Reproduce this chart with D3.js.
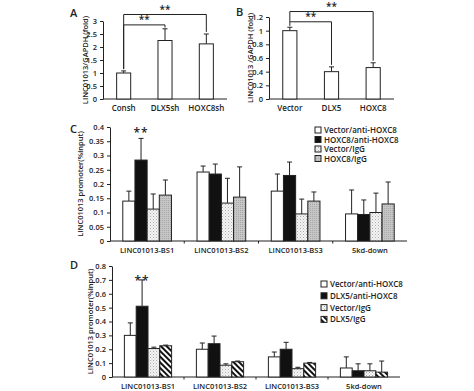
<!DOCTYPE html>
<html><head><meta charset="utf-8">
<script src="https://cdn.jsdelivr.net/npm/d3@7"></script>
<style>body{margin:0;background:#fff}svg{display:block}text{font-family:"Open Sans",Arial,sans-serif;font-weight:600;fill:#222}</style>
</head><body><svg id="c" width="474" height="391"></svg>
<script>
// Panel A
const catsA = ["Consh","DLX5sh","HOXC8sh"];
const valsA = [1.0, 2.25, 2.12];
const errA  = [1.08, 2.7, 2.5];
const ticksA = [0,0.5,1,1.5,2,2.5,3];
// Panel B
const catsB = ["Vector","DLX5","HOXC8"];
const valsB = [1.0, 0.40, 0.46];
const errB  = [1.05, 0.47, 0.53];
const ticksB = [0,0.2,0.4,0.6,0.8,1,1.2];
// Panel C
const groupsC = ["LINC01013-BS1","LINC01013-BS2","LINC01013-BS3","5kd-down"];
const seriesC = ["Vector/anti-HOXC8","HOXC8/anti-HOXC8","Vector/IgG","HOXC8/IgG"];
const valsC = [[0.14,0.242,0.175,0.095],[0.284,0.235,0.23,0.093],[0.112,0.133,0.095,0.10],[0.161,0.154,0.14,0.13]];
const errC  = [[0.175,0.263,0.235,0.179],[0.36,0.27,0.277,0.144],[0.165,0.22,0.147,0.168],[0.214,0.26,0.172,0.207]];
const ticksC = [0,0.05,0.1,0.15,0.2,0.25,0.3,0.35,0.4];
// Panel D
const groupsD = ["LINC01013-BS1","LINC01013-BS2","LINC01013-BS3","5kd-down"];
const seriesD = ["Vector/anti-HOXC8","DLX5/anti-HOXC8","Vector/IgG","DLX5/IgG"];
const valsD = [[0.30,0.20,0.145,0.065],[0.51,0.24,0.20,0.045],[0.205,0.085,0.06,0.045],[0.225,0.11,0.10,0.035]];
const errD  = [[0.39,0.245,0.18,0.145],[0.70,0.295,0.25,0.095],[0.215,0.095,0.07,0.095],[0.23,0.115,0.105,0.115]];
const ticksD = [0,0.1,0.2,0.3,0.4,0.5,0.6,0.7,0.8];

const svg = d3.select("#c");
const defs = svg.append("defs");
const pd = defs.append("pattern").attr("id","dots").attr("patternUnits","userSpaceOnUse").attr("width",3).attr("height",3);
pd.append("rect").attr("width",3).attr("height",3).attr("fill","#f4f4f4");
pd.append("rect").attr("x",0).attr("y",0).attr("width",1).attr("height",1).attr("fill","#aaa");
pd.append("rect").attr("x",1.5).attr("y",1.5).attr("width",1).attr("height",1).attr("fill","#c4c4c4");
const pg = defs.append("pattern").attr("id","gray").attr("patternUnits","userSpaceOnUse").attr("width",2).attr("height",2);
pg.append("rect").attr("width",2).attr("height",2).attr("fill","#c6c6c6");
pg.append("rect").attr("width",1).attr("height",1).attr("fill","#a8a8a8");
const ph = defs.append("pattern").attr("id","hatch").attr("patternUnits","userSpaceOnUse").attr("width",4).attr("height",4).attr("patternTransform","rotate(-45)");
ph.append("rect").attr("width",4).attr("height",4).attr("fill","#fff");
ph.append("rect").attr("width",2).attr("height",4).attr("fill","#111");

function yAxis(g, y, x0, ticks, fmt){
  const ax = d3.axisLeft(y).tickValues(ticks).tickSize(3).tickSizeOuter(0).tickFormat(fmt||(d=>d));
  const a = g.append("g").attr("transform",`translate(${x0},0)`).call(ax);
  a.select(".domain").attr("stroke","#222");
  a.selectAll("line").attr("stroke","#222");
  a.selectAll("text").attr("font-size",7.5).attr("font-weight",600).attr("fill","#222").attr("font-family","Open Sans, Arial");
  return a;
}

function simple(cats, vals, errs, ticks, x0, x1, yTop, yBot, ymax, ylab, ylx, panel, plx, ply, brackets){
  const g = svg.append("g");
  const x = d3.scaleBand().domain(cats).range([x0,x1]).paddingInner(0.66).paddingOuter(0.33);
  const y = d3.scaleLinear().domain([0,ymax]).range([yBot,yTop]);
  yAxis(g,y,x0,ticks);
  g.append("line").attr("x1",x0).attr("x2",x1).attr("y1",yBot).attr("y2",yBot).attr("stroke","#222");
  cats.forEach((c,i)=>{
    const cx = x(c)+x.bandwidth()/2;
    g.append("line").attr("x1",cx).attr("x2",cx).attr("y1",y(vals[i])).attr("y2",y(errs[i])).attr("stroke","#222");
    g.append("line").attr("x1",cx-2.5).attr("x2",cx+2.5).attr("y1",y(errs[i])).attr("y2",y(errs[i])).attr("stroke","#222");
    g.append("rect").attr("x",x(c)).attr("y",y(vals[i])).attr("width",x.bandwidth()).attr("height",yBot-y(vals[i])).attr("fill","#fff").attr("stroke","#222");
    g.append("text").attr("x",cx).attr("y",yBot+12).attr("text-anchor","middle").attr("font-size",8).text(c);
  });
  g.append("text").attr("transform",`translate(${ylx},${(yTop+yBot)/2}) rotate(-90)`).attr("text-anchor","middle").attr("font-size",7.5).text(ylab);
  g.append("text").attr("x",plx).attr("y",ply).attr("font-size",11).attr("font-weight",700).attr("font-family","Arial").text(panel);
  brackets.forEach(b=>{
    const a = x(cats[b.from])+x.bandwidth()/2, e = x(cats[b.to])+x.bandwidth()/2;
    g.append("path").attr("d",`M${a},${y(b.lowA)}V${y(b.level)}H${e}V${y(b.lowB)}`).attr("fill","none").attr("stroke","#222");
    g.append("text").attr("x",(a+e)/2).attr("y",y(b.level)-1.5).attr("text-anchor","middle").attr("font-size",10).attr("font-weight",700).text("**");
  });
}

simple(catsA, valsA, errA, ticksA, 103, 227, 21, 99, 3, "LINC01013/GAPDH (fold)", 88, "A", 70, 17,
  [{from:0,to:1,level:2.85,lowA:1.15,lowB:2.75},{from:0,to:2,level:3.25,lowA:1.15,lowB:2.58}]);
simple(catsB, valsB, errB, ticksB, 269, 394, 17, 99, 1.2, "LINC01013 /GAPDH (fold)", 253, "B", 236, 16,
  [{from:0,to:1,level:1.13,lowA:1.07,lowB:0.5},{from:0,to:2,level:1.28,lowA:1.13,lowB:0.56}]);

function grouped(groups, series, vals, errs, ticks, x0, x1, yTop, yBot, ymax, fills, ylx, panel, plx, ply, legX, legY, legDY, starY){
  const g = svg.append("g");
  const x = d3.scaleBand().domain(groups).range([x0,x1]).paddingInner(0).paddingOuter(0);
  const xs = d3.scaleBand().domain(series).range([0,x.bandwidth()]).paddingOuter(1.05).paddingInner(0);
  const y = d3.scaleLinear().domain([0,ymax]).range([yBot,yTop]);
  yAxis(g,y,x0,ticks,d=>d);
  g.append("line").attr("x1",x0).attr("x2",x1).attr("y1",yBot).attr("y2",yBot).attr("stroke","#222");
  groups.forEach((gr,gi)=>{
    if(gi>0) g.append("line").attr("x1",x(gr)).attr("x2",x(gr)).attr("y1",yBot).attr("y2",yBot+2.5).attr("stroke","#222");
    g.append("text").attr("x",x(gr)+x.bandwidth()/2).attr("y",yBot+12).attr("text-anchor","middle").attr("font-size",7.5).text(gr);
    series.forEach((s,si)=>{
      const bx = x(gr)+xs(s), cx = bx+xs.bandwidth()/2;
      g.append("line").attr("x1",cx).attr("x2",cx).attr("y1",y(vals[si][gi])).attr("y2",y(errs[si][gi])).attr("stroke","#222");
      g.append("line").attr("x1",cx-2.5).attr("x2",cx+2.5).attr("y1",y(errs[si][gi])).attr("y2",y(errs[si][gi])).attr("stroke","#222");
      g.append("rect").attr("x",bx).attr("y",y(vals[si][gi])).attr("width",xs.bandwidth()).attr("height",yBot-y(vals[si][gi])).attr("fill",fills[si]).attr("stroke","#222");
    });
  });
  const sx = x(groups[0])+xs(series[1])+xs.bandwidth()/2;
  g.append("text").attr("x",sx).attr("y",starY).attr("text-anchor","middle").attr("font-size",12).attr("font-weight",700).attr("letter-spacing",1).text("**");
  g.append("text").attr("transform",`translate(${ylx},${(yTop+yBot)/2}) rotate(-90)`).attr("text-anchor","middle").attr("font-size",7.5).text("LINC01013  promoter(%input)");
  g.append("text").attr("x",plx).attr("y",ply).attr("font-size",11).attr("font-weight",700).attr("font-family","Arial").text(panel);
  series.forEach((s,si)=>{
    const ly = legY+si*legDY;
    g.append("rect").attr("x",legX).attr("y",ly-6).attr("width",6).attr("height",6).attr("fill",fills[si]).attr("stroke","#222");
    g.append("text").attr("x",legX+9).attr("y",ly).attr("font-size",8).text(s);
  });
}

grouped(groupsC, seriesC, valsC, errC, ticksC, 110, 407, 127, 241, 0.4, ["#fff","#111","url(#dots)","url(#gray)"], 83, "C", 70, 133, 315, 133, 9.5, 137);
grouped(groupsD, seriesD, valsD, errD, ticksD, 112, 400, 266, 377, 0.8, ["#fff","#111","url(#dots)","url(#hatch)"], 93, "D", 70, 269, 321, 287, 11.8, 285);
</script></body></html>
